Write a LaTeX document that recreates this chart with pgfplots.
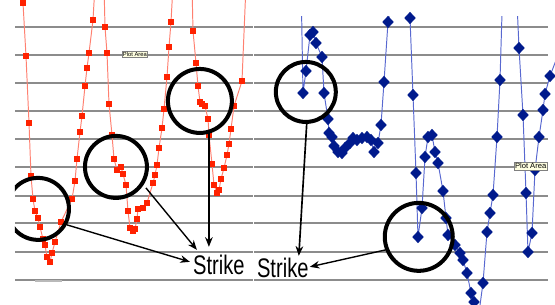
\documentclass[border=0pt]{standalone}
\usepackage{pgfplots}
\pgfplotsset{compat=1.18}
\usepackage{fontspec}
\setmainfont{Liberation Sans}
\usetikzlibrary{arrows.meta}
\definecolor{redm}{HTML}{FF2200}
\definecolor{redl}{HTML}{FF8070}
\definecolor{bluem}{HTML}{001A8C}
\definecolor{bluel}{HTML}{5868D0}
\definecolor{gridc}{HTML}{8C8C8C}
\definecolor{tipfill}{HTML}{FFFFE1}
\begin{document}
\begin{tikzpicture}
\useasboundingbox (0,0) rectangle (5.55in,3.05in);
\begin{axis}[at={(0,0)},anchor=south west,scale only axis,width=5.55in,height=3.05in,
  xmin=0,xmax=555,ymin=0,ymax=305,y dir=reverse,hide axis]
\pgfplotsinvokeforeach{27,55,83,111,139,167,196,223,252,280}{
  \addplot[gridc,line width=0.9pt,forget plot] coordinates {(15,#1)(253,#1)};
  \addplot[gridc,line width=0.9pt,forget plot] coordinates {(254,#1)(548,#1)};
}
\addplot[redl,line width=0.7pt,mark=square*,mark size=2.1pt,
  mark options={solid,fill=redm,draw=redm}] coordinates {
(23,3)(26,56)(29,123)(31,176)(33,199)(35,211)(38,218)(40,227)(43,239)(45,245)
(47,257)(50,262)(52,253)(55,242)(61,222)(72,199)(75,181)(77,159)(80,132)(82,116)
(85,86)(87,68)(89,53)(93,20)(95,-15)
(104,-15)(105,27)(107,53)(109,104)(112,135)(114,159)(117,170)(121,167)(123,174)
(126,185)(128,211)(130,228)(133,231)(135,229)(137,219)(138,209)(143,208)(147,203)
(153,183)(155,175)(157,165)(159,148)(162,128)(164,109)(167,77)(169,47)(171,22)(173,-15)
(192,-15)(193,31)(196,63)(198,86)(200,102)(202,104)(205,106)(208,119)(209,135)
(212,164)(214,185)(217,193)(219,190)(221,179)(224,168)(227,155)(229,144)(231,129)
(234,106)(242,81)(246,-15)
};
\end{axis}
\begin{axis}[at={(2.53in,0)},anchor=south west,scale only axis,width=3.02in,height=2.88in,
  xmin=253,xmax=555,ymin=17,ymax=305,y dir=reverse,hide axis]
\addplot[bluel,line width=0.7pt,mark=diamond*,mark size=3.9pt,
  mark options={solid,fill=bluem,draw=bluem,xscale=1.25}] coordinates {
(301,-20)(303,93)(306,71)(310,35)(313,32)(316,43)(322,57)(324,93)(328,119)(329,133)
(332,137)(334,146)(338,152)(342,153)(345,148)(350,143)(353,138)(357,140)(362,138)
(367,137)(371,140)(374,152)(378,143)(381,125)(384,82)(388,22)(399,-40)
(410,18)(413,95)(416,173)(418,237)(422,208)(425,157)(428,137)(432,135)(435,152)
(438,163)(443,191)(446,218)(448,235)(455,245)(460,253)(463,260)(467,273)(471,293)
(474,302)(478,320)(483,283)(487,232)(490,213)(493,195)(497,137)(500,80)(503,-20)
(516,-20)(519,48)(523,115)(526,193)(528,252)(532,233)(535,170)(539,137)(543,110)
(545,94)(550,76)(558,55)
};
\end{axis}
\begin{scope}[x=0.01in,y=-0.01in,shift={(0,3.05in)}]
\begin{scope}
\clip (15,0) rectangle (555,305);
\draw[black,line width=2.9pt] (38,209) circle[radius=31];
\end{scope}
\draw[gray!55,line width=1.6pt] (35,281) -- (62,281);
\draw[black,line width=2.9pt] (116,167) circle[radius=31];
\draw[black,line width=2.9pt] (200,101) circle[radius=32];
\draw[black,line width=2.9pt] (306,92) circle[radius=30];
\draw[black,line width=2.9pt] (419,237) circle[radius=34];
\draw[line width=1pt,-{Stealth[length=7pt,width=5.5pt]}] (67,225) -- (190,262);
\draw[line width=1pt,-{Stealth[length=7pt,width=5.5pt]}] (146,188) -- (197,250);
\draw[line width=1.2pt,-{Stealth[length=7pt,width=5.5pt]}] (209,133) -- (209,247);
\draw[line width=1.2pt,-{Stealth[length=7pt,width=5.5pt]}] (307,122) -- (299,256);
\draw[line width=1pt,-{Stealth[length=7pt,width=5.5pt]}] (386,250) -- (310,267);
\node[anchor=base west,inner sep=0pt,xscale=0.75,font=\fontsize{19.4}{20}\selectfont] at (193,275) {Strike};
\node[anchor=base west,inner sep=0pt,xscale=0.75,font=\fontsize{19.4}{20}\selectfont] at (257,278) {Strike};
\node[anchor=north west,draw=gray,fill=tipfill,inner sep=0.6pt,line width=0.3pt,font=\fontsize{4.2}{5}\selectfont] at (122,51) {Plot Area};
\node[anchor=north west,draw=gray,fill=tipfill,inner sep=0.8pt,line width=0.3pt,font=\fontsize{5.5}{6.5}\selectfont] at (514,162) {Plot Area};
\end{scope}
\end{tikzpicture}
\end{document}
